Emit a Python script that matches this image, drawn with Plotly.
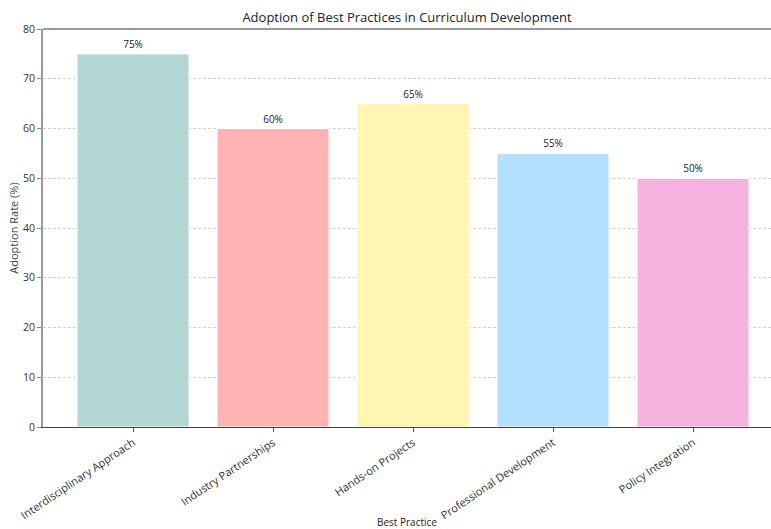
import plotly.graph_objects as go

practices = ["Interdisciplinary Approach", "Industry Partnerships", "Hands-on Projects",
             "Professional Development", "Policy Integration"]
adoption_rates = [75, 60, 65, 55, 50]
bar_colors = ["#b3d7d3", "#ffb3b3", "#fff4b0", "#b3e0fd", "#f5b3df"]
y_ticks = [0, 10, 20, 30, 40, 50, 60, 70, 80]

FONT = "Open Sans"

fig = go.Figure()
fig.add_trace(go.Bar(
    x=list(range(len(practices))),
    y=adoption_rates,
    width=0.8,
    marker=dict(color=bar_colors, line=dict(color="white", width=1)),
    text=[f"{v}%" for v in adoption_rates],
    textposition="outside",
    textfont=dict(family=FONT, size=10, color="#222"),
    cliponaxis=False,
    hoverinfo="skip",
))

fig.update_layout(
    width=771, height=529,
    margin=dict(l=43, r=0, t=29, b=102),
    paper_bgcolor="white", plot_bgcolor="white",
    showlegend=False,
    bargap=0.2,
    title=dict(text="Adoption of Best Practices in Curriculum Development",
               x=(43 + 771) / 2 / 771, xanchor="center", y=1 - 17 / 529, yanchor="middle",
               font=dict(family=FONT, size=13, color="#222")),
    font=dict(family=FONT, size=10, color="#333"),
)

fig.update_xaxes(
    automargin=False,
    range=[-0.643, 4.557],
    tickmode="array", tickvals=list(range(len(practices))), ticktext=practices,
    tickangle=-34,
    ticks="outside", ticklen=4, tickcolor="#555",
    showline=True, linecolor="#444", linewidth=1,
    showgrid=False, zeroline=False,
    tickfont=dict(family=FONT, size=11, color="#333"),
    title=dict(text="Best Practice", font=dict(family=FONT, size=10, color="#222"), standoff=4),
)
fig.update_yaxes(
    automargin=False,
    range=[0, 80],
    tickmode="array", tickvals=y_ticks,
    ticks="outside", ticklen=4, tickcolor="#888",
    showline=True, linecolor="#999", linewidth=2,
    showgrid=True, gridcolor="#d0d0d0", griddash="3px,2px", gridwidth=0.8,
    zeroline=False,
    tickfont=dict(family=FONT, size=10.5, color="#333"),
    title=dict(text="Adoption Rate (%)", font=dict(family=FONT, size=11, color="#444"), standoff=2),
)

# top border line of the axes box
fig.add_shape(type="line", xref="paper", yref="paper", x0=0, x1=1, y0=1, y1=1,
              line=dict(color="#777", width=1.5))

fig.write_html("out.html")
